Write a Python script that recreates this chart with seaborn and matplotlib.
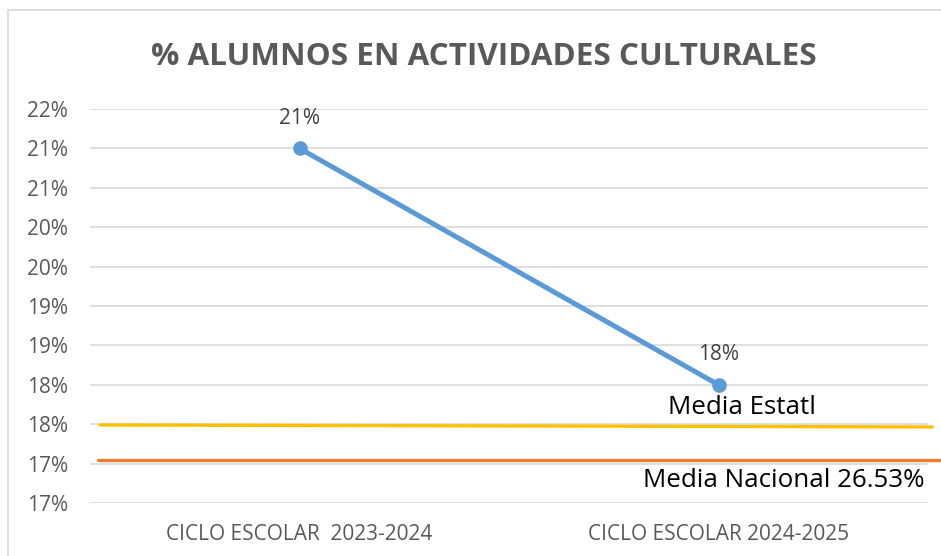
import matplotlib
matplotlib.use("Agg")
import matplotlib.pyplot as plt
import seaborn as sns
import pandas as pd
from matplotlib.patches import Rectangle

categories = ["CICLO ESCOLAR  2023-2024", "CICLO ESCOLAR 2024-2025"]
values = [0.21, 0.18]
value_labels = ["21%", "18%"]
media_estatal = [0.1749, 0.17465]
media_nacional = [0.1705, 0.1705]
y_ticks = [0.165, 0.17, 0.175, 0.18, 0.185, 0.19, 0.195, 0.20, 0.205, 0.21, 0.215]
y_tick_labels = ["17%", "17%", "18%", "18%", "19%", "19%", "20%", "20%", "21%", "21%", "22%"]
title = "% ALUMNOS EN ACTIVIDADES CULTURALES"
label_estatal = "Media Estatl"
label_nacional = "Media Nacional 26.53%"

sns.set_theme(style="white")
plt.rcParams["font.family"] = ["Open Sans", "DejaVu Sans"]

W, H = 941, 556
fig = plt.figure(figsize=(W / 100, H / 100), dpi=100)
ax = fig.add_axes([90 / W, 1 - 503 / H, (928 - 90) / W, (503 - 109) / H])

# chart border
fig.patches.append(Rectangle((8 / W, -0.1), 1.2, 1 - 10 / H + 0.1, transform=fig.transFigure,
                             fill=False, edgecolor="#D9D9D9", linewidth=1.2, zorder=0))

df = pd.DataFrame({"x": [0, 1], "y": values})
sns.lineplot(data=df, x="x", y="y", ax=ax, color="#5B9BD5", linewidth=3.6,
             marker="o", markersize=10.5, markeredgewidth=0, legend=False, zorder=4)
ax.set_xlabel("")
ax.set_ylabel("")
ax.set_xlim(-0.5, 1.5)
ax.set_ylim(0.165, 0.215)
ax.set_yticks(y_ticks)
ax.set_yticklabels(y_tick_labels)
ax.set_xticks([0, 1])
ax.set_xticklabels(categories)
ax.grid(axis="y", color="#D9D9D9", linewidth=1.2)
ax.set_axisbelow(True)
for s in ax.spines.values():
    s.set_visible(False)
ax.tick_params(axis="both", length=0, labelsize=15, labelcolor="#595959")
ax.tick_params(axis="y", pad=16)
ax.tick_params(axis="x", pad=15)

for i, (v, lab) in enumerate(zip(values, value_labels)):
    ax.annotate(lab, (i, v), xytext=(0, 21.5), textcoords="offset points", ha="center",
                va="center", fontsize=15, color="#404040")

# reference lines (extend slightly beyond plot area)
ax.plot([-0.476, 1.51], media_estatal, color="#FFC000", linewidth=2.4, clip_on=False, zorder=3)
ax.plot([-0.481, 1.53], media_nacional, color="#ED7D31", linewidth=2.4, clip_on=False, zorder=3)

ax.text(1.056, 0.1771, label_estatal, ha="center", va="center", fontsize=18.7, color="black")
ax.text(1.156, 0.1679, label_nacional, ha="center", va="center", fontsize=18.7, color="black")

fig.text(484 / W, 1 - 57 / H, title, ha="center", va="center", fontsize=22.6,
         fontweight="bold", color="#595959")

fig.savefig("out.png", dpi=100)
